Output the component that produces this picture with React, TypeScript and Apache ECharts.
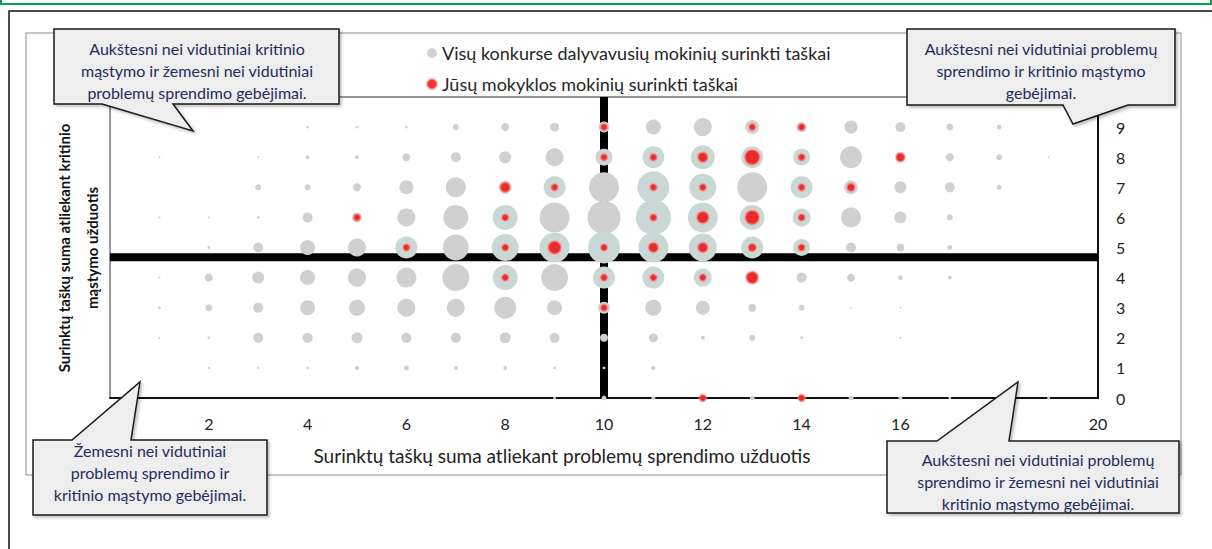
import React, { useEffect, useRef } from "react";
import * as echarts from "echarts";

// X: problem-solving score (1..19), Y: critical-thinking score (0..9)
const xScores = [1, 2, 3, 4, 5, 6, 7, 8, 9, 10, 11, 12, 13, 14, 15, 16, 17, 18, 19];
const yScoresTopDown = [9, 8, 7, 6, 5, 4, 3, 2, 1, 0];

// All participants: number of students per cell (rows from y=9 down to y=0)
const allStudentsRows = [
  [0, 0, 0, 2, 2, 2, 9, 16, 20, 30, 56, 81, 49, 25, 42, 25, 12, 6, 0],
  [1, 0, 1, 4, 4, 16, 25, 36, 81, 72, 121, 144, 121, 72, 121, 20, 16, 9, 1],
  [0, 0, 9, 9, 16, 49, 100, 42, 121, 225, 256, 182, 225, 121, 49, 36, 25, 6, 0],
  [1, 1, 2, 25, 25, 81, 156, 156, 225, 272, 306, 225, 156, 81, 100, 36, 9, 0, 0],
  [0, 2, 25, 56, 81, 121, 169, 182, 225, 256, 225, 196, 121, 72, 25, 16, 6, 0, 0],
  [1, 16, 36, 56, 81, 100, 182, 156, 182, 121, 121, 81, 36, 25, 16, 6, 4, 0, 0],
  [2, 12, 25, 56, 64, 81, 81, 121, 56, 36, 64, 49, 16, 9, 1, 1, 0, 0, 0],
  [1, 2, 25, 25, 30, 25, 25, 30, 25, 16, 20, 4, 9, 2, 0, 1, 0, 0, 0],
  [0, 1, 1, 2, 4, 6, 4, 4, 2, 2, 4, 0, 0, 0, 0, 0, 0, 0, 0],
  [0, 0, 0, 0, 0, 0, 0, 0, 2, 6, 4, 6, 6, 6, 6, 4, 2, 0, 2],
];

// Your school's students: [problem-solving score, critical-thinking score, count]
const schoolPoints = [
  [5, 6, 12], [6, 5, 12], [8, 7, 25], [8, 6, 12], [8, 5, 12], [8, 4, 12],
  [9, 7, 12], [9, 5, 42], [10, 9, 12], [10, 8, 12], [10, 5, 12], [10, 4, 12],
  [10, 3, 12], [11, 8, 12], [11, 7, 12], [11, 6, 12], [11, 5, 25], [11, 4, 12],
  [12, 8, 25], [12, 7, 12], [12, 6, 36], [12, 5, 25], [12, 4, 12], [12, 0, 12],
  [13, 9, 12], [13, 8, 56], [13, 6, 49], [13, 5, 16], [13, 4, 36], [14, 9, 12],
  [14, 8, 12], [14, 7, 12], [14, 6, 12], [14, 5, 12], [14, 0, 12], [15, 7, 16],
  [16, 8, 20],
];

const problemSolvingAverage = 10;
const criticalThinkingAverage = 4.68;

const seriesAllName = "Visų konkurse dalyvavusių mokinių surinkti taškai";
const seriesSchoolName = "Jūsų mokyklos mokinių surinkti taškai";
const xAxisTitle = "Surinktų taškų suma atliekant problemų sprendimo užduotis";
const yAxisTitle = "Surinktų taškų suma atliekant kritinio\nmąstymo užduotis";

const calloutTexts = [
  "Aukštesni nei vidutiniai kritinio\nmąstymo ir žemesni nei vidutiniai\nproblemų sprendimo gebėjimai.",
  "Aukštesni nei vidutiniai problemų\nsprendimo ir kritinio mąstymo\ngebėjimai.",
  "Žemesni nei vidutiniai\nproblemų sprendimo ir\nkritinio mąstymo gebėjimai.",
  "Aukštesni nei vidutiniai problemų\nsprendimo ir žemesni nei vidutiniai\nkritinio mąstymo gebėjimai.",
];

const FONT = "Lato, 'Open Sans', sans-serif";

function App() {
  const ref = useRef<HTMLDivElement>(null);

  useEffect(() => {
    if (!ref.current) return;
    const chart = echarts.init(ref.current, null, { renderer: "svg" });

    const schoolKey = new Set(schoolPoints.map((p) => p[0] + "_" + p[1]));
    const allData: number[][] = [];
    yScoresTopDown.forEach((y, ri) => {
      xScores.forEach((x, ci) => {
        const v = allStudentsRows[ri][ci];
        if (v > 0) allData.push([x, y, v]);
      });
    });

    const sizeFn = (val: number[]) => 2 * Math.sqrt(val[2]);

    const calloutStyle = {
      fill: "#eeeeee",
      stroke: "#1a1a1a",
      lineWidth: 1.5,
      shadowBlur: 3,
      shadowOffsetX: 2,
      shadowOffsetY: 2,
      shadowColor: "rgba(0,0,0,0.25)",
    };
    const calloutTextStyle = (text: string) => ({
      text,
      fill: "#1f2d5c",
      font: `16px ${FONT}`,
      align: "center",
      verticalAlign: "middle",
      lineHeight: 22,
    });

    const callouts = [
      {
        pts: [[54, 29], [339, 29], [339, 104], [173, 104], [193, 131], [102, 104], [54, 104]],
        cx: 197, cy: 70, t: calloutTexts[0],
      },
      {
        pts: [[907, 29], [1175, 29], [1175, 105], [1128, 105], [1073, 124], [1063, 105], [907, 105]],
        cx: 1041, cy: 70, t: calloutTexts[1],
      },
      {
        pts: [[33, 440], [72, 440], [140, 382], [131, 440], [267, 440], [267, 515], [33, 515]],
        cx: 150, cy: 472, t: calloutTexts[2],
      },
      {
        pts: [[887, 441], [937, 441], [1018, 382], [1009, 441], [1179, 441], [1179, 513], [887, 513]],
        cx: 1038, cy: 481, t: calloutTexts[3],
      },
    ];

    const graphics: any[] = [
      {
        type: "rect", z: 0, silent: true,
        shape: { x: 1, y: -10, width: 1210, height: 14 },
        style: { fill: "none", stroke: "#00a650", lineWidth: 2 },
      },
      {
        type: "rect", z: 0, silent: true,
        shape: { x: 9, y: 11, width: 1300, height: 600 },
        style: { fill: "none", stroke: "#111", lineWidth: 1.5 },
      },
      {
        type: "rect", z: 0, silent: true,
        shape: { x: 26, y: 33, width: 1155, height: 442 },
        style: { fill: "none", stroke: "#8c8c8c", lineWidth: 1 },
      },
      {
        type: "text", z: 10, silent: true,
        x: 78, y: 248, rotation: Math.PI / 2,
        style: {
          text: yAxisTitle, fill: "#111", font: `bold 15px ${FONT}`,
          align: "center", verticalAlign: "middle", lineHeight: 28,
        },
      },
      {
        type: "text", z: 10, silent: true,
        x: 562, y: 455,
        style: {
          text: xAxisTitle, fill: "#222", font: `19px ${FONT}`,
          align: "center", verticalAlign: "middle",
        },
      },
    ];
    callouts.forEach((c) => {
      graphics.push({
        type: "polygon", z: 100, silent: true,
        shape: { points: c.pts },
        style: calloutStyle,
      });
      graphics.push({
        type: "text", z: 101, silent: true,
        x: c.cx, y: c.cy,
        style: calloutTextStyle(c.t),
      });
    });

    chart.setOption({
      animation: false,
      backgroundColor: "#ffffff",
      textStyle: { fontFamily: FONT },
      grid: {
        left: 110, right: 114, top: 97, bottom: 151,
        show: true, borderColor: "#333", borderWidth: 1,
      },
      legend: {
        orient: "vertical",
        left: 421, top: 39,
        itemWidth: 10, itemHeight: 10, itemGap: 13,
        textStyle: { fontSize: 18, color: "#262626", fontFamily: FONT },
        data: [
          { name: seriesAllName, icon: "circle", itemStyle: { color: "#d0d0d0" } },
          { name: seriesSchoolName, icon: "circle", itemStyle: { color: "#f00000" } },
        ],
      },
      xAxis: {
        type: "value", min: 0, max: 20, interval: 2,
        axisLine: { show: true, lineStyle: { color: "#111", width: 2 } },
        axisTick: { show: false },
        splitLine: { show: false },
        axisLabel: { fontSize: 16, color: "#222", margin: 17, showMinLabel: false },
      },
      yAxis: {
        type: "value", position: "right", min: 0, max: 10, interval: 1,
        axisLine: { show: true, onZero: false, lineStyle: { color: "#111", width: 2 } },
        axisTick: { show: false },
        splitLine: { show: false },
        axisLabel: { fontSize: 16, color: "#222", margin: 18, showMaxLabel: false },
      },
      graphic: graphics,
      series: [
        {
          type: "line", silent: true, z: 2, symbol: "none",
          data: [[problemSolvingAverage, 0], [problemSolvingAverage, 10]],
          lineStyle: { color: "#000", width: 8 },
        },
        {
          type: "line", silent: true, z: 2, symbol: "none",
          data: [[0, criticalThinkingAverage], [20, criticalThinkingAverage]],
          lineStyle: { color: "#000", width: 8 },
        },
        {
          name: seriesAllName, type: "scatter", z: 3,
          data: allData,
          symbolSize: sizeFn,
          itemStyle: {
            color: (p: any) =>
              schoolKey.has(p.data[0] + "_" + p.data[1]) ? "#c9d7d5" : "#d0d0d0",
            opacity: 1,
          },
        },
        {
          name: seriesSchoolName, type: "scatter", z: 4,
          data: schoolPoints,
          symbolSize: sizeFn,
          itemStyle: {
            color: "#f00000",
            borderColor: "rgba(255,140,140,0.7)",
            borderWidth: 2,
          },
        },
      ],
    });

    return () => chart.dispose();
  }, []);

  return (
    <div
      ref={ref}
      style={{ position: "absolute", left: 0, top: 0, width: 1212, height: 549 }}
    />
  );
}

export default App;
